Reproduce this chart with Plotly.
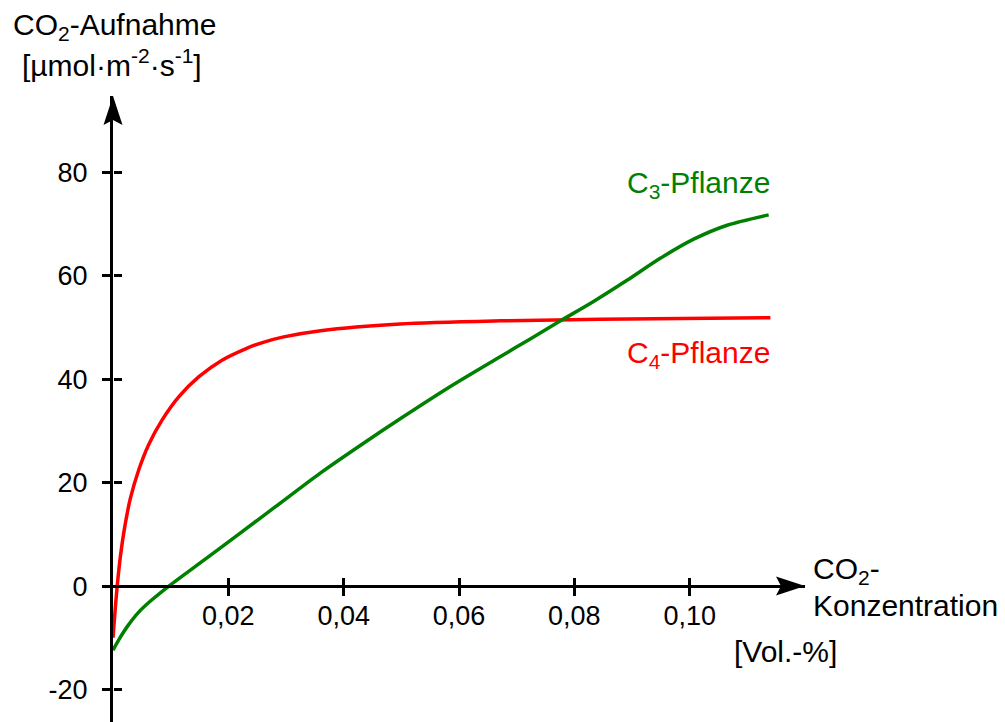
import plotly.graph_objects as go

# ---- data ----
red_x = [0, 0.0004, 0.0008, 0.0013, 0.002, 0.003, 0.0045, 0.0062, 0.0085, 0.0114,
         0.0149, 0.0189, 0.023, 0.0259, 0.0296, 0.036, 0.0498, 0.0672, 0.0845, 0.114]
red_y = [-10, -4.2, 0.8, 5.9, 11.2, 16.9, 22.6, 27.4, 32.1, 36.6,
         40.5, 43.7, 45.9, 47.1, 48.2, 49.4, 50.7, 51.3, 51.6, 51.9]

green_x = [0, 0.001, 0.0025, 0.0045, 0.0065, 0.0097, 0.016, 0.022, 0.028, 0.036, 0.043, 0.050,
           0.0585, 0.0672, 0.0725, 0.0776, 0.0834, 0.0892, 0.0949, 0.1007, 0.1065, 0.1137]
green_y = [-12.4, -10.4, -7.8, -5.0, -2.9, 0, 5.2, 10.2, 15.2, 21.9, 27.3, 32.5,
           38.6, 44.4, 47.9, 51.3, 55.1, 59.2, 63.4, 67.1, 69.8, 71.8]

x_tickvals = [0.02, 0.04, 0.06, 0.08, 0.10]
x_ticktext = ["0,02", "0,04", "0,06", "0,08", "0,10"]
y_tickvals = [-20, 0, 20, 40, 60, 80]
y_ticktext = ["-20", "0", "20", "40", "60", "80"]

# ---- layout constants ----
W, H = 1005, 722
ML, MR, MT, MB = 113, 200, 96, 0
XR = [0, 0.12]
YR = [-26.3, 94.8]
FONT = "Liberation Sans, Arial, Helvetica, sans-serif"
FS_TICK = 27
FS = 30
GREEN = "#008000"
RED = "#ff0000"

pw = W - ML - MR
ph = H - MT - MB
def px_x(px):
    return (px - ML) / pw
def px_y(py):
    return (H - MB - py) / ph
y0_paper = (0 - YR[0]) / (YR[1] - YR[0])

fig = go.Figure()
fig.add_trace(go.Scatter(x=red_x, y=red_y, mode="lines",
                         line=dict(color=RED, width=3.5, shape="spline", smoothing=0.8),
                         hoverinfo="skip", showlegend=False))
fig.add_trace(go.Scatter(x=green_x, y=green_y, mode="lines",
                         line=dict(color=GREEN, width=3.5, shape="spline", smoothing=0.8),
                         hoverinfo="skip", showlegend=False))
# invisible trace for overlay axes (inside ticks)
fig.add_trace(go.Scatter(x=[None], y=[None], xaxis="x2", yaxis="y2",
                         mode="lines", showlegend=False, hoverinfo="skip"))

axis_common = dict(showgrid=False, zeroline=False, tickcolor="black", tickwidth=3,
                   ticklen=8, automargin=False,
                   tickfont=dict(family=FONT, size=FS_TICK, color="black"))

fig.update_layout(
    template="none",
    width=W, height=H,
    margin=dict(l=ML, r=MR, t=MT, b=MB, pad=0, autoexpand=False),
    paper_bgcolor="white", plot_bgcolor="white",
    hovermode=False,
    xaxis=dict(range=XR, anchor="free", position=y0_paper, showline=True,
               linecolor="black", linewidth=3, ticks="outside",
               tickvals=x_tickvals, ticktext=x_ticktext, ticklabelstandoff=-3,
               **axis_common),
    yaxis=dict(range=YR, showline=True, linecolor="black", linewidth=3,
               ticks="outside", tickvals=y_tickvals, ticktext=y_ticktext,
               ticklabelstandoff=9, **axis_common),
    xaxis2=dict(range=XR, overlaying="x", anchor="free", position=y0_paper,
                showline=False, ticks="inside", tickvals=x_tickvals,
                showticklabels=False, **axis_common),
    yaxis2=dict(range=YR, overlaying="y", anchor="free", position=0,
                showline=False, ticks="inside", tickvals=y_tickvals,
                showticklabels=False, **axis_common),
)

# arrow heads
fig.add_shape(type="path", xref="paper", yref="paper", xsizemode="pixel", ysizemode="pixel",
              xanchor=0, yanchor=1, path="M 0 0 L -9.5 -29 L 0 -24 L 9.5 -29 Z",
              fillcolor="black", line=dict(width=0))
fig.add_shape(type="path", xref="paper", yref="paper", xsizemode="pixel", ysizemode="pixel",
              xanchor=1, yanchor=y0_paper, path="M 0 0 L -29 9.5 L -24 0 L -29 -9.5 Z",
              fillcolor="black", line=dict(width=0))

def ann(text, px, py, color="black", xanchor="center"):
    fig.add_annotation(text=text, x=px_x(px), y=px_y(py), xref="paper", yref="paper",
                       xanchor=xanchor, yanchor="middle", showarrow=False,
                       font=dict(family=FONT, size=FS, color=color))

ann("CO<sub>2</sub>-Aufnahme", 114, 27)
ann("[µmol·m<sup>-2</sup>·s<sup>-1</sup>]", 112, 63)
ann("CO<sub>2</sub>-", 811, 570, xanchor="left")
ann("Konzentration", 811, 605, xanchor="left")
ann("[Vol.-%]", 785, 651)
ann("C<sub>3</sub>-Pflanze", 698, 184, color=GREEN)
ann("C<sub>4</sub>-Pflanze", 698, 354, color=RED)

fig.write_html("out.html", config={"displayModeBar": False, "staticPlot": True},
               post_script="document.body.style.margin='0px';document.body.style.overflow='hidden';")
